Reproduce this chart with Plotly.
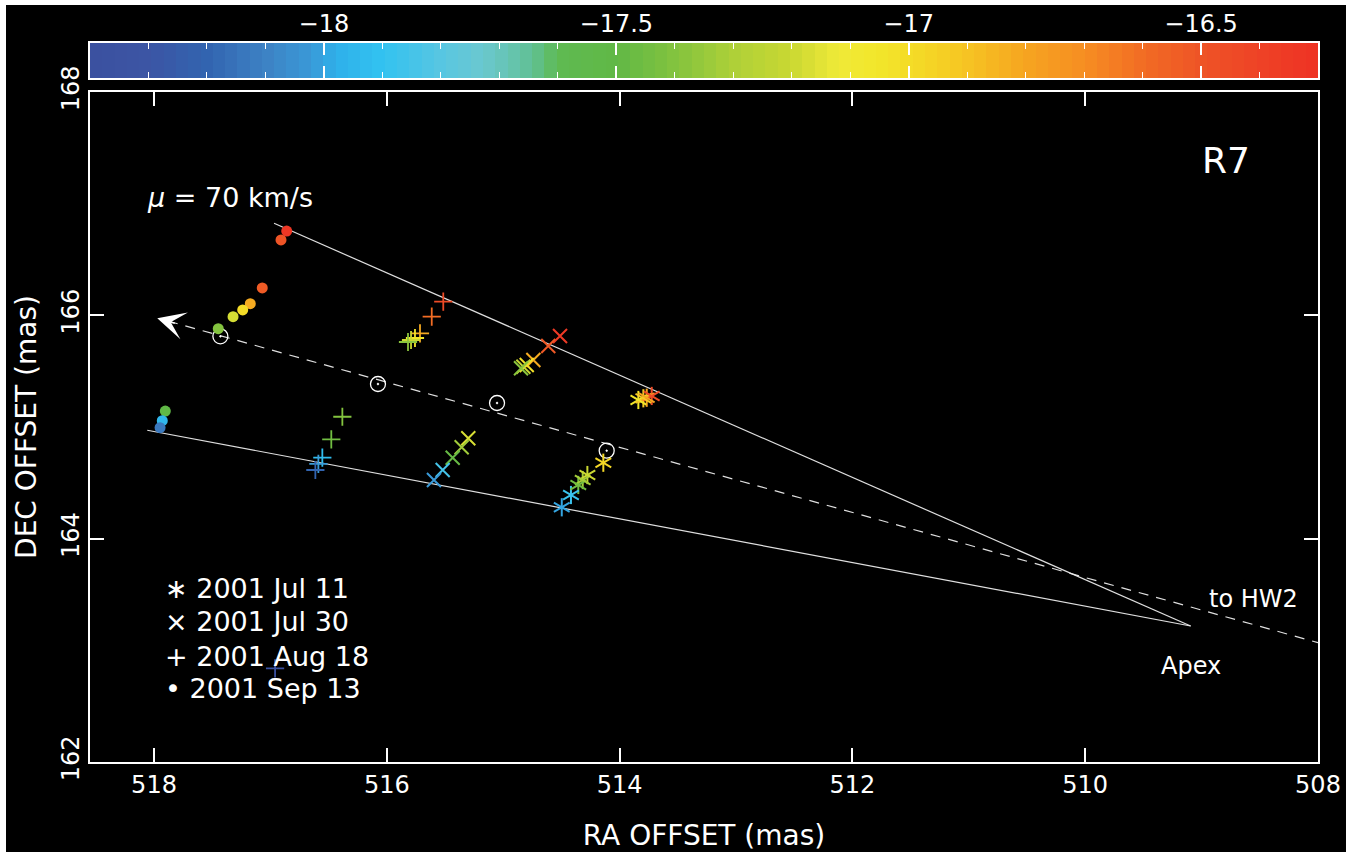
import numpy as np
import plotly.graph_objects as go

# ---- velocity scale (km/s) for the colour strip ----
VLSR_MIN, VLSR_MAX = -18.4, -16.3
VLSR_TICKS = [-18, -17.5, -17, -16.5]
VLSR_TICKTEXT = ["−18", "−17.5", "−17", "−16.5"]
COLOR_STOPS = [
    (-18.40, "#3b51a0"), (-18.30, "#3c55a4"), (-18.20, "#3264b0"),
    (-18.10, "#3d82c4"), (-18.02, "#3a9ad8"), (-17.98, "#2eb0ea"),
    (-17.90, "#32c2f0"), (-17.80, "#58c6e2"), (-17.73, "#6ac8d0"),
    (-17.68, "#66c4b0"), (-17.64, "#60c090"), (-17.60, "#5fba52"),
    (-17.50, "#60b846"), (-17.39, "#86c43e"), (-17.30, "#aed038"),
    (-17.20, "#cad832"), (-17.12, "#f0ea38"), (-17.05, "#f2e62a"),
    (-16.96, "#f5d425"), (-16.88, "#f6be22"), (-16.80, "#f6a420"),
    (-16.70, "#f68e22"), (-16.60, "#f26c24"), (-16.50, "#ee5426"),
    (-16.40, "#ee4226"), (-16.30, "#ee3224"),
]

# ---- maser spots per epoch: RA offset, DEC offset (mas), V_LSR (km/s) ----
# 2001 Jul 11 (asterisks)
JUL11_RA = [513.839, 513.796, 513.767, 513.724,
            514.140, 514.277, 514.317, 514.355, 514.418, 514.497]
JUL11_DEC = [165.242, 165.257, 165.262, 165.278,
             164.680, 164.570, 164.525, 164.481, 164.391, 164.281]
JUL11_V = [-17.05, -16.92, -16.80, -16.45,
           -16.98, -17.20, -17.32, -17.45, -17.88, -18.00]

# 2001 Jul 30 (crosses)
JUL30_RA = [514.512, 514.613, 514.741, 514.798, 514.827, 514.847,
            515.300, 515.357, 515.434, 515.520, 515.595]
JUL30_DEC = [165.815, 165.725, 165.600, 165.555, 165.540, 165.526,
             164.899, 164.818, 164.725, 164.615, 164.525]
JUL30_V = [-16.35, -16.52, -16.82, -17.02, -17.22, -17.38,
           -17.17, -17.33, -17.48, -17.85, -18.02]

# 2001 Aug 18 (plus signs)
AUG18_RA = [515.515, 515.614, 515.715, 515.758, 515.792, 515.818,
            516.382, 516.477, 516.554, 516.588, 516.614, 516.960]
AUG18_DEC = [166.122, 165.988, 165.839, 165.797, 165.779, 165.761,
             165.092, 164.890, 164.725, 164.669, 164.615, 162.839]
AUG18_V = [-16.45, -16.60, -16.82, -17.05, -17.20, -17.38,
           -17.40, -17.45, -17.92, -18.02, -18.20, -18.38]

# 2001 Sep 13 (filled dots)
SEP13_RA = [516.860, 516.909, 517.070, 517.173, 517.238, 517.321, 517.448,
            517.903, 517.929, 517.948]
SEP13_DEC = [166.755, 166.675, 166.245, 166.104, 166.048, 165.988, 165.880,
             165.143, 165.057, 164.994]
SEP13_V = [-16.33, -16.50, -16.53, -16.82, -17.00, -17.18, -17.40,
           -17.50, -17.95, -18.13]

# reference positions along the flow axis (open circles with a dot)
REF_RA = [517.430, 516.076, 515.053, 514.111]
REF_DEC = [165.812, 165.385, 165.215, 164.788]

# envelope lines converging at the apex, and the flow axis toward HW2
UPPER_EDGE_RA = [516.969, 509.094]
UPPER_EDGE_DEC = [166.824, 163.218]
LOWER_EDGE_RA = [518.058, 509.094]
LOWER_EDGE_DEC = [164.971, 163.218]
FLOW_AXIS_RA = [517.880, 508.0]
FLOW_AXIS_DEC = [165.949, 163.069]
ARROW_TIP = (517.972, 165.973)

X_TICKS = [518, 516, 514, 512, 510, 508]
Y_TICKS = [162, 164, 166, 168]

FONT = "DejaVu Sans"
WHITE = "#ffffff"

span = VLSR_MAX - VLSR_MIN
colorscale = [[(v - VLSR_MIN) / span, c] for v, c in COLOR_STOPS]

fig = go.Figure()

# colour strip, drawn in its own small subplot above the map
n_cells = 100
half = span / n_cells / 2
strip_levels = np.linspace(VLSR_MIN + half, VLSR_MAX - half, n_cells)
fig.add_trace(go.Heatmap(
    x=strip_levels, y=[0], z=[strip_levels], coloraxis="coloraxis",
    xaxis="x2", yaxis="y2", hoverinfo="skip",
))

line_style = dict(color="rgba(235,235,235,0.95)", width=1.2)
fig.add_trace(go.Scatter(x=UPPER_EDGE_RA, y=UPPER_EDGE_DEC, mode="lines",
                         line=line_style, hoverinfo="skip"))
fig.add_trace(go.Scatter(x=LOWER_EDGE_RA, y=LOWER_EDGE_DEC, mode="lines",
                         line=line_style, hoverinfo="skip"))
fig.add_trace(go.Scatter(x=FLOW_AXIS_RA, y=FLOW_AXIS_DEC, mode="lines",
                         line=dict(color="rgba(235,235,235,0.95)", width=1.2,
                                   dash="10px,8px"),
                         hoverinfo="skip"))

fig.add_trace(go.Scatter(
    x=REF_RA, y=REF_DEC, mode="markers",
    marker=dict(symbol="circle-open-dot", size=15, color=WHITE,
                line=dict(width=1.3)),
))


def spot_marker(symbol, size, values, width=2.0, angle=0):
    return dict(symbol=symbol, size=size, color=values, coloraxis="coloraxis",
                line=dict(width=width), angle=angle)


# six-armed asterisks built from three rotated bars
for ang in (0, 60, -60):
    fig.add_trace(go.Scatter(
        x=JUL11_RA, y=JUL11_DEC, mode="markers",
        marker=spot_marker("line-ns-open", 13, JUL11_V, angle=ang),
    ))
fig.add_trace(go.Scatter(x=JUL30_RA, y=JUL30_DEC, mode="markers",
                         marker=spot_marker("x-thin-open", 14, JUL30_V)))
fig.add_trace(go.Scatter(x=AUG18_RA, y=AUG18_DEC, mode="markers",
                         marker=spot_marker("cross-thin-open", 13, AUG18_V,
                                            width=1.8)))
fig.add_trace(go.Scatter(x=SEP13_RA, y=SEP13_DEC, mode="markers",
                         marker=dict(symbol="circle", size=11, color=SEP13_V,
                                     coloraxis="coloraxis",
                                     line=dict(width=0))))


def label(text, x, y, size=24, xanchor="center", xref="x", yref="y"):
    fig.add_annotation(text=text, x=x, y=y, xref=xref, yref=yref,
                       showarrow=False, xanchor=xanchor, yanchor="middle",
                       font=dict(family=FONT, size=size, color=WHITE))


label("R7", 508.79, 167.391, size=36)
label("<i>μ</i> = 70 km/s", 518.077, 167.051, size=27, xanchor="left")
label("to HW2", 508.558, 163.46)
label("Apex", 509.091, 162.86)
label("∗ 2001 Jul 11", 517.923, 163.558, size=27, xanchor="left")
label("× 2001 Jul 30", 517.923, 163.254, size=27, xanchor="left")
label("+ 2001 Aug 18", 517.923, 162.949, size=27, xanchor="left")
label("• 2001 Sep 13", 517.923, 162.654, size=27, xanchor="left")

# arrowhead at the start of the flow axis
fig.add_annotation(x=ARROW_TIP[0], y=ARROW_TIP[1], ax=19, ay=5.3, text="",
                   showarrow=True, arrowhead=3, arrowsize=3.1, arrowwidth=1.5,
                   arrowcolor=WHITE, xref="x", yref="y")

# black canvas inset inside the white page edge
fig.add_shape(type="rect", xref="paper", yref="paper", layer="below",
              x0=-0.0684, x1=1.0228, y0=-0.1252, y1=1.0529,
              fillcolor="black", line=dict(width=0))

axis_common = dict(showgrid=False, zeroline=False, showline=True,
                   linecolor=WHITE, linewidth=1.5, mirror="ticks",
                   ticks="inside", ticklen=14, tickwidth=1.5, tickcolor=WHITE,
                   tickfont=dict(family=FONT, size=24, color=WHITE),
                   automargin=False)

fig.update_layout(
    template="none",
    width=1358, height=856,
    margin=dict(l=90, r=40, t=43, b=94),
    paper_bgcolor="white", plot_bgcolor="black",
    showlegend=False,
    coloraxis=dict(colorscale=colorscale, cmin=VLSR_MIN, cmax=VLSR_MAX,
                   showscale=False),
    xaxis=dict(axis_common, range=[518.55, 508], tickvals=X_TICKS,
               domain=[0, 1], anchor="y",
               title=dict(text="RA OFFSET (mas)", standoff=28,
                          font=dict(family=FONT, size=28, color=WHITE))),
    yaxis=dict(axis_common, range=[162, 168], tickvals=Y_TICKS,
               tickangle=-90, domain=[0, 0.93185], anchor="x",
               title=dict(text="DEC OFFSET (mas)", standoff=12,
                          font=dict(family=FONT, size=28, color=WHITE))),
    xaxis2=dict(axis_common, range=[VLSR_MIN, VLSR_MAX], side="top",
                tickvals=VLSR_TICKS, ticktext=VLSR_TICKTEXT, ticklen=12,
                anchor="y2", domain=[0, 1],
                minor=dict(dtick=0.1, tick0=-18.4, ticks="inside", ticklen=6,
                           tickwidth=1.2, tickcolor=WHITE)),
    yaxis2=dict(showgrid=False, zeroline=False, showline=True, mirror=True,
                linecolor=WHITE, linewidth=1.5, ticks="", showticklabels=False,
                range=[-0.5, 0.5], domain=[0.951, 1], anchor="x2",
                automargin=False),
)

fig.write_html("out.html")
